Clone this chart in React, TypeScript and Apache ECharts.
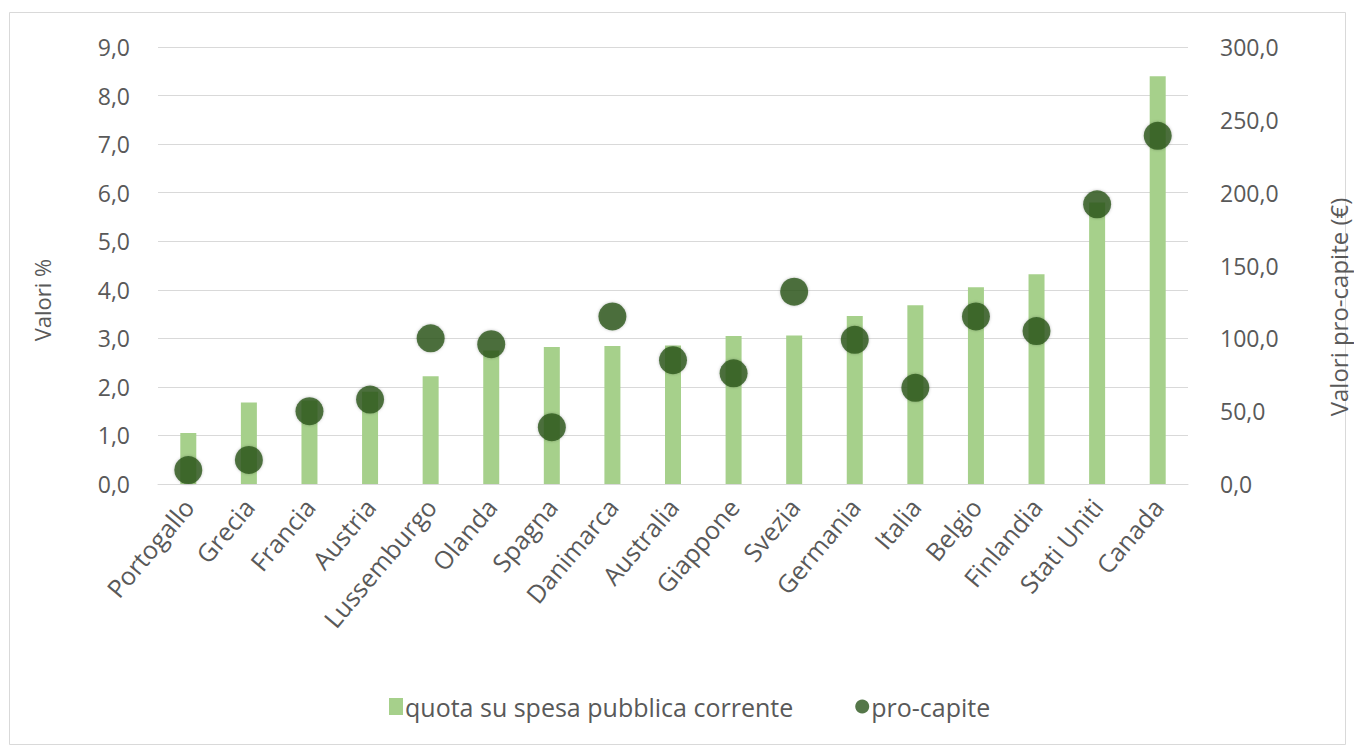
import React, { useEffect, useRef } from "react";
import * as echarts from "echarts";

const categories = [
  "Portogallo", "Grecia", "Francia", "Austria", "Lussemburgo", "Olanda", "Spagna",
  "Danimarca", "Australia", "Giappone", "Svezia", "Germania", "Italia", "Belgio",
  "Finlandia", "Stati Uniti", "Canada",
];
const quotaValues = [1.05, 1.68, 1.72, 1.9, 2.22, 2.75, 2.82, 2.84, 2.85, 3.05, 3.06, 3.46, 3.68, 4.05, 4.32, 5.8, 8.4];
const proCapiteValues = [9.6, 16.5, 50, 58, 100, 96, 39, 115, 85, 76, 132, 99, 66, 115, 105, 192, 239];
const leftTicks = { min: 0, max: 9, interval: 1 };
const rightTicks = { min: 0, max: 300, interval: 50 };
const seriesNames = ["quota su spesa pubblica corrente", "pro-capite"];
const leftAxisName = "Valori %";
const rightAxisName = "Valori pro-capite (€)";

const FONT = "'Open Sans', sans-serif";
const TXT = "#595959";

export default function App() {
  const ref = useRef<HTMLDivElement>(null);
  useEffect(() => {
    if (!ref.current) return;
    const chart = echarts.init(ref.current, undefined, { renderer: "svg" });
    const fmt = (v: number) => v.toFixed(1).replace(".", ",");
    chart.setOption({
      animation: false,
      backgroundColor: "#ffffff",
      textStyle: { fontFamily: FONT },
      grid: { left: 158, right: 166, top: 47, bottom: 263, containLabel: false },
      legend: {
        left: 384,
        top: 689,
        itemGap: 62,
        itemWidth: 14,
        itemHeight: 17,
        textStyle: { fontFamily: FONT, fontSize: 25, color: TXT, padding: [0, 0, 0, -3] },
        data: [
          { name: seriesNames[0], icon: "rect" },
          { name: seriesNames[1], icon: "circle" },
        ],
      },
      xAxis: {
        type: "category",
        data: categories,
        axisLine: { show: true, lineStyle: { color: "#d9d9d9", width: 1 } },
        axisTick: { show: false },
        axisLabel: {
          rotate: 50,
          interval: 0,
          margin: 18,
          fontFamily: FONT,
          fontSize: 25,
          color: TXT,
        },
      },
      yAxis: [
        {
          type: "value",
          min: leftTicks.min,
          max: leftTicks.max,
          interval: leftTicks.interval,
          axisLine: { show: false },
          axisTick: { show: false },
          splitLine: { show: true, lineStyle: { color: "#d9d9d9", width: 1 } },
          axisLabel: { formatter: fmt, margin: 28, fontFamily: FONT, fontSize: 23, color: TXT },
        },
        {
          type: "value",
          min: rightTicks.min,
          max: rightTicks.max,
          interval: rightTicks.interval,
          axisLine: { show: false },
          axisTick: { show: false },
          splitLine: { show: false },
          axisLabel: { formatter: fmt, margin: 32, fontFamily: FONT, fontSize: 23, color: TXT },
        },
      ],
      series: [
        {
          name: seriesNames[0],
          type: "bar",
          data: quotaValues,
          yAxisIndex: 0,
          barWidth: 16,
          itemStyle: { color: "#a6d08b" },
        },
        {
          name: seriesNames[1],
          type: "scatter",
          data: proCapiteValues,
          yAxisIndex: 1,
          symbol: "circle",
          symbolSize: 28,
          itemStyle: { color: "#2a551b", shadowBlur: 3, shadowColor: "rgba(0,0,0,0.3)" },
          z: 3,
        },
      ],
      graphic: [
        {
          type: "rect",
          shape: { x: 9.5, y: 12.5, width: 1336, height: 732 },
          style: { fill: "none", stroke: "#d9d9d9", lineWidth: 1 },
          silent: true,
          z: -1,
        },
        {
          type: "text",
          x: 42,
          y: 300,
          rotation: Math.PI / 2,
          style: {
            text: leftAxisName,
            fontFamily: FONT,
            fontSize: 22,
            fill: TXT,
            align: "center",
            verticalAlign: "middle",
          },
        },
        {
          type: "text",
          x: 1338,
          y: 307,
          rotation: Math.PI / 2,
          style: {
            text: rightAxisName,
            fontFamily: FONT,
            fontSize: 24,
            fill: TXT,
            align: "center",
            verticalAlign: "middle",
          },
        },
      ],
    });
    return () => chart.dispose();
  }, []);
  return (
    <div
      ref={ref}
      style={{ position: "fixed", left: 0, top: 0, width: 1354, height: 747 }}
    />
  );
}
